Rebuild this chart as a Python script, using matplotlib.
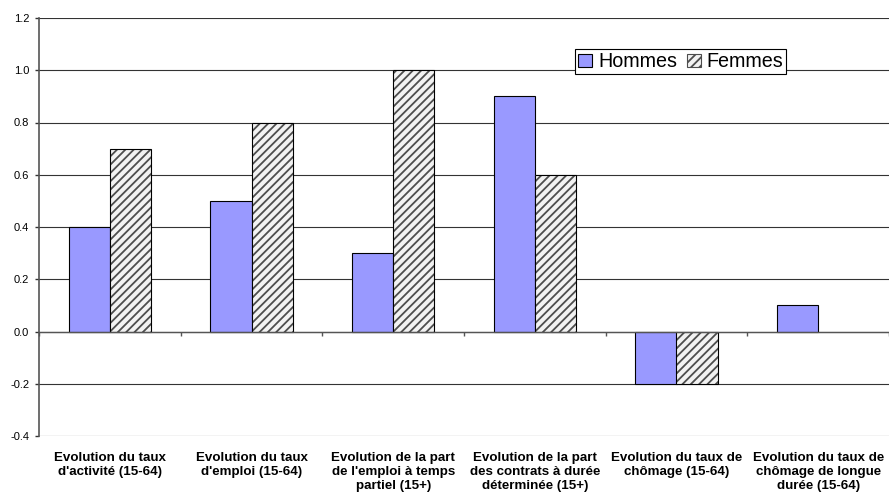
import numpy as np
import matplotlib
matplotlib.use('Agg')
import matplotlib.pyplot as plt
from matplotlib.patches import Patch
from matplotlib.transforms import blended_transform_factory

# data
categories = ["Evolution du taux\nd'activité (15-64)",
              "Evolution du taux\nd'emploi (15-64)",
              "Evolution de la part\nde l'emploi à temps\npartiel (15+)",
              "Evolution de la part\ndes contrats à durée\ndéterminée (15+)",
              "Evolution du taux de\nchômage (15-64)",
              "Evolution du taux de\nchômage de longue\ndurée (15-64)"]
hommes = [0.4, 0.5, 0.3, 0.9, -0.2, 0.1]
femmes = [0.7, 0.8, 1.0, 0.6, -0.2, 0.0]
yticks = [-0.4, -0.2, 0.0, 0.2, 0.4, 0.6, 0.8, 1.0, 1.2]

plt.rcParams['font.family'] = ['Liberation Sans', 'DejaVu Sans']
plt.rcParams['hatch.linewidth'] = 1.3

fig = plt.figure(figsize=(8.89, 4.95), dpi=100)
ax = fig.add_axes([39 / 889, 1 - 436 / 495, 850 / 889, 418 / 495])

x = np.arange(len(categories))
w = 0.29

# Hommes bars
ax.bar(x - w / 2, hommes, w, color='#9999FF', edgecolor='black', linewidth=0.8,
       label='Hommes', zorder=3)
# Femmes bars: hatch first, then outline
femmes_plot = [v if v != 0 else np.nan for v in femmes]
ax.bar(x + w / 2, femmes_plot, w, color='#f2f2f2', edgecolor='#4d4d4d', linewidth=0,
       hatch='////', zorder=3)
ax.bar(x + w / 2, femmes_plot, w, fill=False, edgecolor='black', linewidth=0.8, zorder=4)

# legend
handles = [Patch(facecolor='#9999FF', edgecolor='black', linewidth=0.8, label='Hommes'),
           Patch(facecolor='#f2f2f2', edgecolor='#4d4d4d', hatch='////', linewidth=0.8, label='Femmes')]
leg = ax.legend(handles=handles, loc='upper left', bbox_to_anchor=(0.631, 0.925), ncol=2,
                fontsize=14.2, frameon=True, fancybox=False, framealpha=1,
                handlelength=0.7, handleheight=0.7, handletextpad=0.3,
                columnspacing=0.5, borderpad=0.15, borderaxespad=0)
leg.get_frame().set_edgecolor('black')
leg.get_frame().set_linewidth(0.8)
leg.set_zorder(6)

ax.set_ylim(-0.4, 1.2)
ax.set_xlim(-0.5, len(categories) - 0.5)
ax.set_yticks(yticks)
ax.set_yticklabels(['%.1f' % v for v in yticks], fontsize=8)
ax.yaxis.grid(True, color='#333333', linewidth=0.8, zorder=0)
ax.set_axisbelow(True)

# spines
ax.spines['top'].set_visible(False)
ax.spines['right'].set_visible(False)
ax.spines['left'].set_color('#555555')
ax.spines['left'].set_linewidth(1.2)
ax.spines['bottom'].set_position(('data', 0))
ax.spines['bottom'].set_color('#555555')
ax.spines['bottom'].set_linewidth(1.0)
ax.spines['bottom'].set_zorder(5)

ax.tick_params(axis='y', direction='out', length=3, width=1, color='#333333', pad=4)
ax.set_xticks(np.arange(len(categories) + 1) - 0.5)
ax.set_xticklabels([])
ax.tick_params(axis='x', direction='out', length=3, width=1, color='#555555')

# category labels at the bottom
trans = blended_transform_factory(ax.transData, ax.transAxes)
for xi, lab in zip(x, categories):
    ax.text(xi, -0.038, lab, transform=trans, ha='center', va='top', fontsize=9.6,
            fontweight='bold', linespacing=1.22)

fig.savefig('out.png', dpi=100)
